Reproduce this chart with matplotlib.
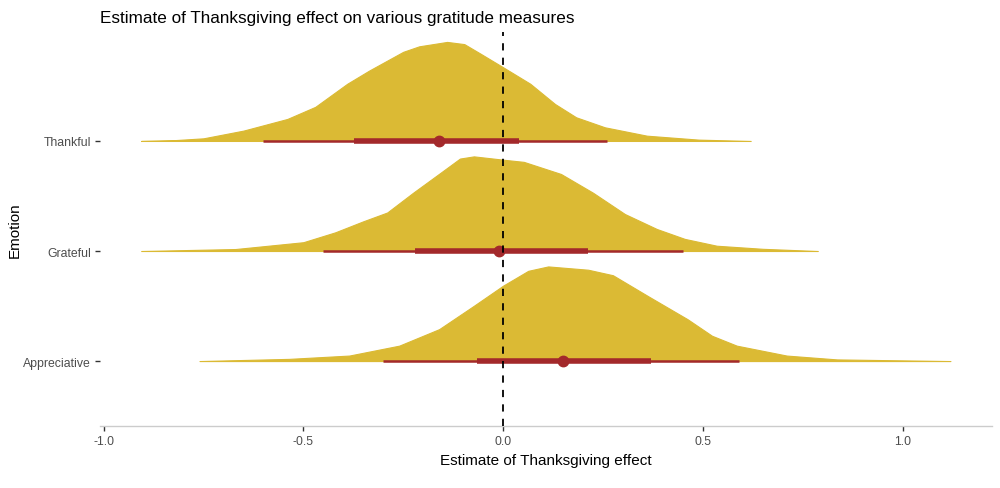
import numpy as np
import matplotlib.pyplot as plt

plt.rcParams['font.family'] = ['Liberation Sans', 'DejaVu Sans']

emotions = ['Appreciative', 'Grateful', 'Thankful']

# density outlines (x = effect, h = scaled slab height)
thankful_x = [-0.906, -0.82, -0.75, -0.65, -0.54, -0.47, -0.39, -0.335, -0.25, -0.21, -0.14, -0.097, -0.055, 0.0, 0.068, 0.13, 0.183, 0.255, 0.36, 0.49, 0.62]
thankful_h = [0.0, 0.008, 0.024, 0.094, 0.20, 0.31, 0.52, 0.64, 0.81, 0.86, 0.90, 0.88, 0.79, 0.67, 0.52, 0.336, 0.215, 0.124, 0.048, 0.012, 0.0]

grateful_x = [-0.906, -0.67, -0.50, -0.42, -0.35, -0.29, -0.225, -0.155, -0.108, -0.073, 0.0, 0.052, 0.145, 0.225, 0.305, 0.385, 0.455, 0.535, 0.65, 0.788]
grateful_h = [0.0, 0.018, 0.08, 0.17, 0.27, 0.35, 0.53, 0.715, 0.84, 0.86, 0.83, 0.81, 0.70, 0.53, 0.336, 0.20, 0.11, 0.048, 0.02, 0.0]

appreciative_x = [-0.76, -0.535, -0.385, -0.26, -0.16, -0.074, 0.0, 0.063, 0.113, 0.213, 0.275, 0.363, 0.462, 0.523, 0.585, 0.71, 0.836, 1.12]
appreciative_h = [0.0, 0.02, 0.05, 0.14, 0.29, 0.50, 0.685, 0.82, 0.86, 0.83, 0.78, 0.59, 0.38, 0.23, 0.14, 0.05, 0.015, 0.0]

# point estimate and intervals (66% thick, 95% thin)
medians = [0.15, -0.01, -0.16]
inner_lo = [-0.065, -0.22, -0.373]
inner_hi = [0.37, 0.213, 0.04]
outer_lo = [-0.30, -0.45, -0.60]
outer_hi = [0.59, 0.45, 0.26]

slab_col = '#DBBA34'
int_col = '#A3292B'

fig = plt.figure(figsize=(10, 4.89), dpi=100)
ax = fig.add_axes([0.1, 0.1268, 0.892, 0.8057])

slabs = [(appreciative_x, appreciative_h), (grateful_x, grateful_h), (thankful_x, thankful_h)]
for i, (xs, hs) in enumerate(slabs):
    y0 = i + 1
    ax.fill_between(xs, y0, y0 + np.array(hs), color=slab_col, linewidth=0.8,
                    edgecolor=slab_col, joinstyle='round', zorder=2)
    ax.plot([outer_lo[i], outer_hi[i]], [y0, y0], color=int_col, lw=1.8, solid_capstyle='butt', zorder=3)
    ax.plot([inner_lo[i], inner_hi[i]], [y0, y0], color=int_col, lw=4, solid_capstyle='butt', zorder=3)
    ax.plot(medians[i], y0, 'o', color=int_col, ms=7.5, zorder=4)

ax.axvline(0, color='black', ls=(0, (4, 4)), lw=1.3, zorder=5)

ax.set_xlim(-1.009, 1.224)
ax.set_ylim(0.41, 3.99)
ax.set_xticks([-1.0, -0.5, 0.0, 0.5, 1.0])
ax.set_xticklabels(['-1.0', '-0.5', '0.0', '0.5', '1.0'])
ax.set_yticks([1, 2, 3])
ax.set_yticklabels(emotions)

for s in ['top', 'right', 'left']:
    ax.spines[s].set_visible(False)
ax.spines['bottom'].set_color('#CCCCCC')
ax.spines['bottom'].set_linewidth(1.0)
ax.tick_params(axis='both', colors='#333333', labelcolor='#4D4D4D', labelsize=8.8, length=3.5, width=1)
ax.tick_params(axis='x', pad=3)
ax.tick_params(axis='y', pad=3)

ax.set_xlabel('Estimate of Thanksgiving effect', fontsize=11, labelpad=4)
ax.set_ylabel('Emotion', fontsize=11)
ax.yaxis.set_label_coords(-0.088, 0.5)
ax.set_title('Estimate of Thanksgiving effect on various gratitude measures', loc='left', fontsize=12.3, pad=7)

fig.savefig('out.png', dpi=100)
